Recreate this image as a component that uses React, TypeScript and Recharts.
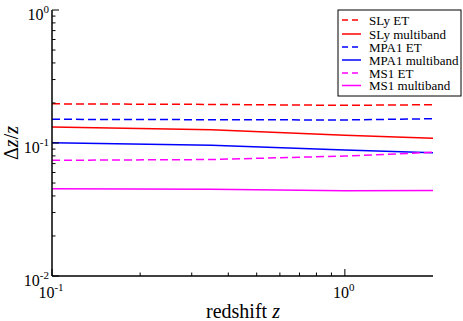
import React from 'react';
import { LineChart, Line, XAxis, YAxis } from 'recharts';

const xValues = [0.1, 0.35, 1, 2];
const slyET = [0.197, 0.195, 0.192, 0.194];
const slyMB = [0.132, 0.1257, 0.1142, 0.1085];
const mpa1ET = [0.1507, 0.1497, 0.149, 0.1523];
const mpa1MB = [0.1005, 0.0961, 0.0886, 0.0846];
const ms1ET = [0.0741, 0.0751, 0.0798, 0.0851];
const ms1MB = [0.0453, 0.0449, 0.0438, 0.044];

const xMajor = [0.1, 1];
const xMajorLabels = ['-1', '0'];
const xMinor = [0.2, 0.3, 0.4, 0.5, 0.6, 0.7, 0.8, 0.9];
const yMajor = [0.01, 0.1, 1];
const yMajorLabels = ['-2', '-1', '0'];
const yMinor = [0.02, 0.03, 0.04, 0.05, 0.06, 0.07, 0.08, 0.09, 0.2, 0.3, 0.4, 0.5, 0.6, 0.7, 0.8, 0.9];

const series = [
  { key: 'slyET', name: 'SLy ET', color: '#ff0000', dashed: true, values: slyET },
  { key: 'slyMB', name: 'SLy multiband', color: '#ff0000', dashed: false, values: slyMB },
  { key: 'mpa1ET', name: 'MPA1 ET', color: '#0000ff', dashed: true, values: mpa1ET },
  { key: 'mpa1MB', name: 'MPA1 multiband', color: '#0000ff', dashed: false, values: mpa1MB },
  { key: 'ms1ET', name: 'MS1 ET', color: '#ff00ff', dashed: true, values: ms1ET },
  { key: 'ms1MB', name: 'MS1 multiband', color: '#ff00ff', dashed: false, values: ms1MB },
];

const data = xValues.map((x, i) => {
  const row: any = { x };
  series.forEach((s) => (row[s.key] = s.values[i]));
  return row;
});

const FONT = "'Liberation Serif', 'DejaVu Serif', 'Times New Roman', serif";
const xTicks = [...xMajor, ...xMinor].sort((a, b) => a - b);
const yTicks = [...yMajor, ...yMinor].sort((a, b) => a - b);
const isMajor = (arr: number[], v: number) => arr.some((m) => Math.abs(m - v) < 1e-9);

const MAJ = 7;
const MIN = 3.5;
const txt = { fontFamily: FONT };

const BottomTick = (props: any) => {
  const { x, y, payload } = props;
  const v = payload.value;
  const maj = isMajor(xMajor, v);
  const idx = xMajor.findIndex((m) => Math.abs(m - v) < 1e-9);
  return (
    <g>
      <line x1={x} y1={y} x2={x} y2={y - (maj ? MAJ : MIN)} stroke="#000" strokeWidth={1} />
      {maj && (
        <text x={x - 1} y={y + 22} textAnchor="middle" style={txt} fontSize={16} fill="#000">
          <tspan>10</tspan>
          <tspan dy={-7} fontSize={11}>{xMajorLabels[idx]}</tspan>
        </text>
      )}
    </g>
  );
};

const TopTick = (props: any) => {
  const { x, y, payload } = props;
  const maj = isMajor(xMajor, payload.value);
  return <line x1={x} y1={y} x2={x} y2={y + (maj ? MAJ : MIN)} stroke="#000" strokeWidth={1} />;
};

const LeftTick = (props: any) => {
  const { x, y, payload } = props;
  const v = payload.value;
  const maj = isMajor(yMajor, v);
  const idx = yMajor.findIndex((m) => Math.abs(m - v) < 1e-9);
  return (
    <g>
      <line x1={x} y1={y} x2={x + (maj ? MAJ : MIN)} y2={y} stroke="#000" strokeWidth={1} />
      {maj && (
        <text x={x - 3} y={y + 10} textAnchor="end" style={txt} fontSize={16} fill="#000">
          <tspan>10</tspan>
          <tspan dy={-7} fontSize={11}>{yMajorLabels[idx]}</tspan>
        </text>
      )}
    </g>
  );
};

const RightTick = (props: any) => {
  const { x, y, payload } = props;
  const maj = isMajor(yMajor, payload.value);
  return <line x1={x} y1={y} x2={x - (maj ? MAJ : MIN)} y2={y} stroke="#000" strokeWidth={1} />;
};

const Legend = () => {
  const rowsY = [20, 34, 47, 60, 73, 85.5];
  return (
    <svg width={463} height={321} style={{ position: 'absolute', left: 0, top: 0, pointerEvents: 'none' }}>
      <rect x={338} y={10} width={123} height={86} fill="#fff" stroke="#000" strokeWidth={1} />
      {series.map((s, i) => (
        <g key={s.key}>
          <line
            x1={342}
            x2={361}
            y1={rowsY[i]}
            y2={rowsY[i]}
            stroke={s.color}
            strokeWidth={1.5}
            strokeDasharray={s.dashed ? '6 4' : undefined}
          />
          <text x={369} y={rowsY[i] + 4.5} style={txt} fontSize={13} fill="#000">
            {s.name}
          </text>
        </g>
      ))}
    </svg>
  );
};

export default function App() {
  return (
    <div style={{ position: 'absolute', left: 0, top: 0, width: 463, height: 321, background: '#fff', fontFamily: FONT }}>
      <LineChart width={463} height={321} data={data} margin={{ top: 10, right: 30, bottom: 0, left: 0 }}>
        <XAxis
          dataKey="x"
          type="number"
          scale="log"
          domain={[0.1, 2]}
          allowDataOverflow
          ticks={xTicks}
          interval={0}
          tick={BottomTick}
          tickLine={false}
          tickSize={0}
          tickMargin={0}
          height={45}
          axisLine={{ stroke: '#000', strokeWidth: 1.5 }}
        />
        <XAxis
          xAxisId="top"
          dataKey="x"
          orientation="top"
          type="number"
          scale="log"
          domain={[0.1, 2]}
          allowDataOverflow
          ticks={xTicks}
          interval={0}
          tick={TopTick}
          tickLine={false}
          tickSize={0}
          tickMargin={0}
          height={0}
          axisLine={{ stroke: '#000', strokeWidth: 1.5 }}
        />
        <YAxis
          type="number"
          scale="log"
          domain={[0.01, 1]}
          allowDataOverflow
          ticks={yTicks}
          interval={0}
          tick={LeftTick}
          tickLine={false}
          tickSize={0}
          tickMargin={0}
          width={52}
          axisLine={{ stroke: '#000', strokeWidth: 1.5 }}
        />
        <YAxis
          yAxisId="right"
          orientation="right"
          type="number"
          scale="log"
          domain={[0.01, 1]}
          allowDataOverflow
          ticks={yTicks}
          interval={0}
          tick={RightTick}
          tickLine={false}
          tickSize={0}
          tickMargin={0}
          width={0}
          axisLine={{ stroke: '#000', strokeWidth: 1.5 }}
        />
        {series.map((s) => (
          <Line
            key={s.key}
            dataKey={s.key}
            name={s.name}
            type="linear"
            stroke={s.color}
            strokeWidth={1.5}
            strokeDasharray={s.dashed ? '8 4' : undefined}
            dot={false}
            activeDot={false}
            isAnimationActive={false}
          />
        ))}
        <text x={243} y={318} textAnchor="middle" style={txt} fontSize={20} fill="#000">
          redshift <tspan fontStyle="italic">z</tspan>
        </text>
        <text
          x={18}
          y={143}
          textAnchor="middle"
          transform="rotate(-90 18 143)"
          style={txt}
          fontSize={20}
          fill="#000"
        >
          Δ<tspan fontStyle="italic">z</tspan>/<tspan fontStyle="italic">z</tspan>
        </text>
      </LineChart>
      <Legend />
    </div>
  );
}
